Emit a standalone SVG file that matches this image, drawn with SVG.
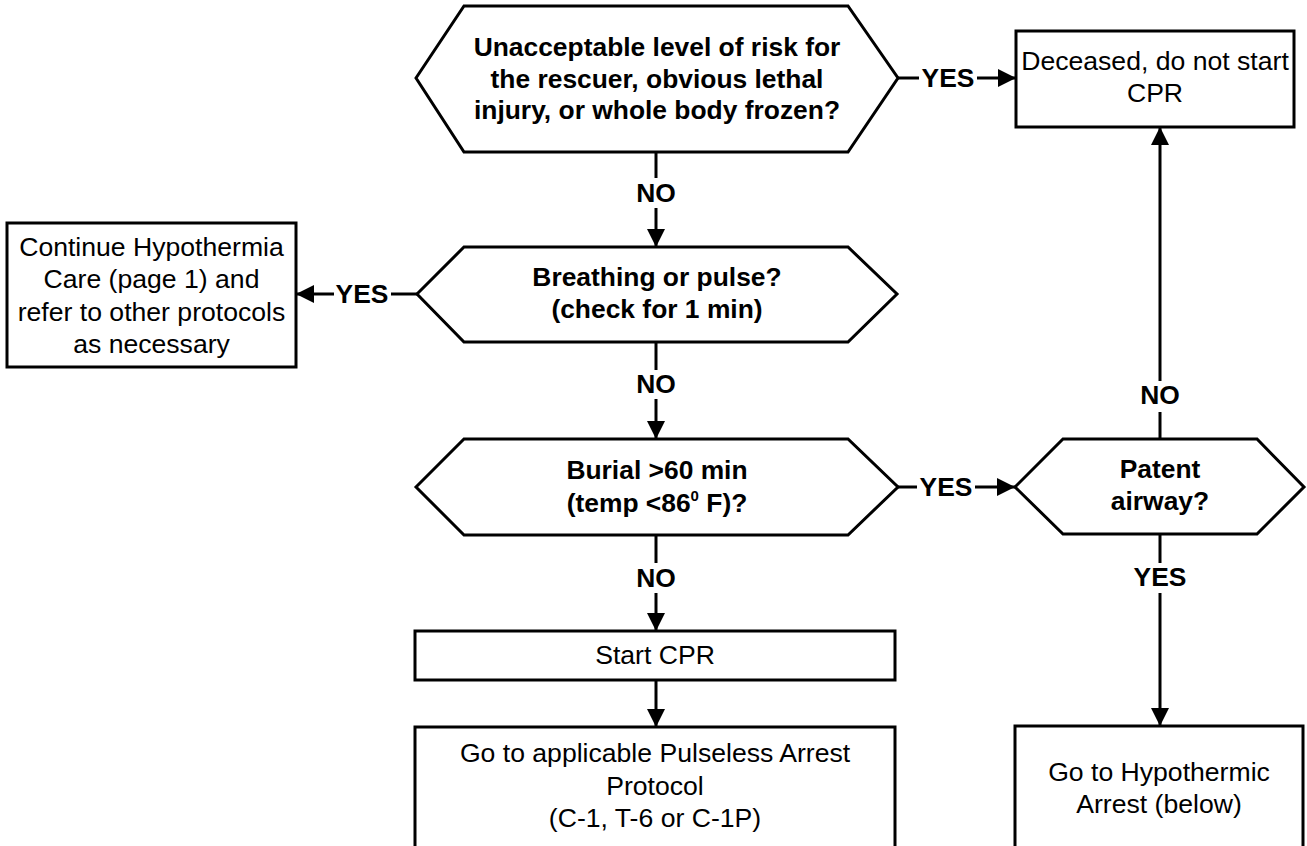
<svg xmlns="http://www.w3.org/2000/svg" width="1307" height="846" viewBox="0 0 1307 846">
<style>
.shape{fill:#fff;stroke:#000;stroke-width:3;stroke-linejoin:miter}
.t{font-family:"Liberation Sans",Arial,sans-serif;font-size:26.6px;fill:#000;text-anchor:middle}
.b{font-weight:bold;font-size:26.4px}
.c{fill:none;stroke:#000;stroke-width:3}
</style>
<defs>
<marker id="ah" viewBox="0 0 10 10" refX="10" refY="5" markerWidth="19" markerHeight="18" markerUnits="userSpaceOnUse" orient="auto">
<path d="M0,0 L10,5 L0,10 z" fill="#000"/>
</marker>
</defs>
<rect width="1307" height="846" fill="#fff"/>
<g id="connectors">
<line class="c" x1="656" y1="152" x2="656" y2="178"/>
<line class="c" x1="656" y1="208" x2="656" y2="247" marker-end="url(#ah)"/>
<text class="t b" x="656" y="202">NO</text>
<line class="c" x1="656" y1="342" x2="656" y2="370"/>
<line class="c" x1="656" y1="399" x2="656" y2="439" marker-end="url(#ah)"/>
<text class="t b" x="656" y="393">NO</text>
<line class="c" x1="656" y1="535" x2="656" y2="563"/>
<line class="c" x1="656" y1="593" x2="656" y2="631" marker-end="url(#ah)"/>
<text class="t b" x="656" y="587">NO</text>
<line class="c" x1="656" y1="680" x2="656" y2="727" marker-end="url(#ah)"/>
<line class="c" x1="898" y1="78" x2="919" y2="78"/>
<line class="c" x1="977" y1="78" x2="1016" y2="78" marker-end="url(#ah)"/>
<text class="t b" x="948" y="87">YES</text>
<line class="c" x1="417" y1="294" x2="391" y2="294"/>
<line class="c" x1="334" y1="294" x2="296" y2="294" marker-end="url(#ah)"/>
<text class="t b" x="362" y="303">YES</text>
<line class="c" x1="898" y1="487" x2="917" y2="487"/>
<line class="c" x1="975" y1="487" x2="1015" y2="487" marker-end="url(#ah)"/>
<text class="t b" x="946" y="496">YES</text>
<line class="c" x1="1160" y1="439" x2="1160" y2="412"/>
<line class="c" x1="1160" y1="381" x2="1160" y2="127" marker-end="url(#ah)"/>
<text class="t b" x="1160" y="404">NO</text>
<line class="c" x1="1160" y1="534" x2="1160" y2="563"/>
<line class="c" x1="1160" y1="593" x2="1160" y2="726" marker-end="url(#ah)"/>
<text class="t b" x="1160" y="586">YES</text>
</g>
<g id="q-risk">
<polygon class="shape" points="416,78 464,6 848,6 898,78 848,152 464,152"/>
<text class="t b" x="657" y="56">Unacceptable level of risk for</text>
<text class="t b" x="657" y="87.5">the rescuer, obvious lethal</text>
<text class="t b" x="657" y="119">injury, or whole body frozen?</text>
</g>
<g id="deceased">
<rect class="shape" x="1016" y="31" width="278" height="96"/>
<text class="t" x="1155" y="70">Deceased, do not start</text>
<text class="t" x="1155" y="102">CPR</text>
</g>
<g id="q-breathing">
<polygon class="shape" points="417,294 464,247 848,247 897,294 848,342 464,342"/>
<text class="t b" x="657" y="286">Breathing or pulse?</text>
<text class="t b" x="657" y="318">(check for 1 min)</text>
</g>
<g id="continue-care">
<rect class="shape" x="7" y="223" width="289" height="144"/>
<text class="t" x="151.5" y="255.5">Continue Hypothermia</text>
<text class="t" x="151.5" y="288">Care (page 1) and</text>
<text class="t" x="151.5" y="320.5">refer to other protocols</text>
<text class="t" x="151.5" y="353">as necessary</text>
</g>
<g id="q-burial">
<polygon class="shape" points="416,487 464,439 848,439 898,487 848,535 464,535"/>
<text class="t b" x="657" y="479">Burial &gt;60 min</text>
<text class="t b" x="657" y="512">(temp &lt;86<tspan font-size="15" dy="-11">0</tspan><tspan dy="11"> F)?</tspan></text>
</g>
<g id="q-airway">
<polygon class="shape" points="1015,487 1063,439 1257,439 1304,487 1257,534 1063,534"/>
<text class="t b" x="1160" y="478">Patent</text>
<text class="t b" x="1160" y="510">airway?</text>
</g>
<g id="start-cpr">
<rect class="shape" x="415" y="631" width="480" height="49"/>
<text class="t" x="655" y="664">Start CPR</text>
</g>
<g id="pulseless">
<rect class="shape" x="415" y="727" width="480" height="125"/>
<text class="t" x="655" y="762">Go to applicable Pulseless Arrest</text>
<text class="t" x="655" y="795">Protocol</text>
<text class="t" x="655" y="827">(C-1, T-6 or C-1P)</text>
</g>
<g id="hypothermic">
<rect class="shape" x="1015" y="726" width="288" height="126"/>
<text class="t" x="1159" y="781">Go to Hypothermic</text>
<text class="t" x="1159" y="813">Arrest (below)</text>
</g>
</svg>
